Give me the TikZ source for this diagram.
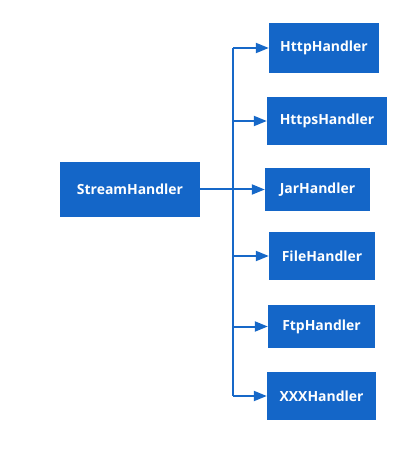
\documentclass[tikz,border=0pt]{standalone}
\usepackage{fontspec}
\setmainfont{Open Sans}
\usetikzlibrary{arrows.meta}
\definecolor{boxblue}{RGB}{20,102,200}
\definecolor{lineblue}{RGB}{22,104,200}
\tikzset{
  hbox/.style={fill=boxblue, text=white, font=\bfseries\fontsize{14}{16}\selectfont, inner sep=0pt, anchor=center},
  conn/.style={draw=lineblue, line width=2bp},
  arr/.style={conn, -{Triangle[length=13bp,width=10bp]}}
}
\begin{document}
\begin{tikzpicture}[x=1bp,y=-1bp]
\useasboundingbox (0,0) rectangle (418,465);
\node[hbox, minimum width=140bp, minimum height=55bp] (s) at (130,189.5) {StreamHandler};
\node[hbox, minimum width=110bp, minimum height=50bp] (http) at (324,48) {HttpHandler};
\node[hbox, minimum width=120bp, minimum height=48bp] (https) at (327,121) {HttpsHandler};
\node[hbox, minimum width=105bp, minimum height=43bp] (jar) at (317.5,189.5) {JarHandler};
\node[hbox, minimum width=106bp, minimum height=48bp] (file) at (322,256) {FileHandler};
\node[hbox, minimum width=107bp, minimum height=43bp] (ftp) at (321.5,326.5) {FtpHandler};
\node[hbox, minimum width=109bp, minimum height=48bp] (xxx) at (321.5,396) {XXXHandler};
\coordinate (t) at (233,0);
\draw[conn] (t |- http.west) -- (t |- xxx.west);
\draw[arr] (s.east) -- (jar.west);
\draw[arr] (t |- http.west) -- (http.west);
\draw[arr] (t |- https.west) -- (https.west);
\draw[arr] (t |- file.west) -- (file.west);
\draw[arr] (t |- ftp.west) -- (ftp.west);
\draw[arr] (t |- xxx.west) -- (xxx.west);
\end{tikzpicture}
\end{document}
